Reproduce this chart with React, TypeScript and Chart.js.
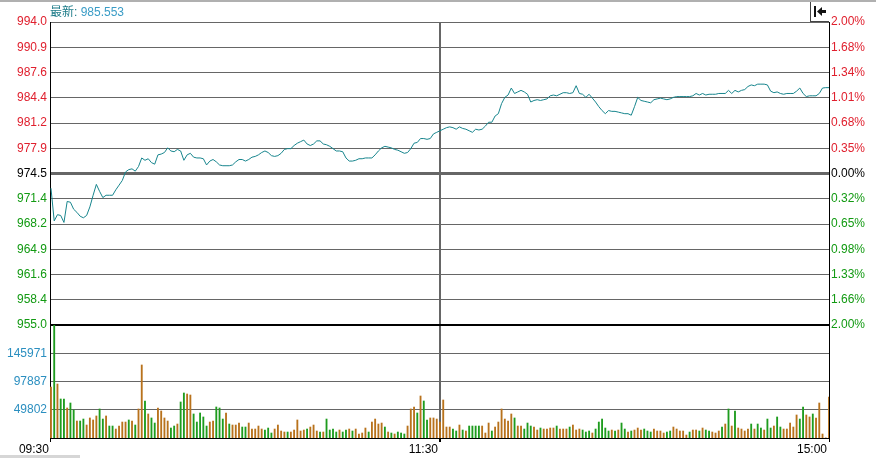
import React, { useEffect, useRef } from "react";
import { Chart, registerables } from "chart.js";

Chart.register(...registerables);

// ---------- data ----------
const TIME_TICKS = [0, 120, 240];
const TIME_LABELS = ["09:30", "11:30", "15:00"];

const PRICE_MAX = 994.0;
const PRICE_MIN = 955.0;
const PRICE_LABELS = ["994.0", "990.9", "987.6", "984.4", "981.2", "977.9", "974.5", "971.4", "968.2", "964.9", "961.6", "958.4", "955.0"];
const PCT_LABELS = ["2.00%", "1.68%", "1.34%", "1.01%", "0.68%", "0.35%", "0.00%", "0.32%", "0.65%", "0.98%", "1.33%", "1.66%", "2.00%"];

const VOL_MIN = 1718;
const VOL_MAX = 194056;
const VOL_TICKS = [49802, 97887, 145971];

const LATEST_LABEL = "最新: ";
const LATEST = "985.553";

// morning 09:30-11:30 (121 minutes)
const PRICE_AM = [
  972.6, 968.4, 969.2, 969.1, 968.2, 970.9, 970.8, 969.9, 969.5, 969.0,
  968.8, 969.1, 970.2, 971.7, 973.1, 972.2, 971.4, 971.7, 971.7, 971.7,
  972.4, 973.0, 973.6, 974.7, 975.0, 975.1, 974.8, 975.4, 976.5, 976.2,
  976.4, 975.9, 975.7, 976.9, 977.0, 977.2, 977.8, 977.4, 977.3, 977.6,
  977.4, 976.2, 976.9, 977.1, 976.6, 976.5, 976.5, 976.4, 975.6, 976.1,
  976.3, 976.0, 975.6, 975.5, 975.5, 975.5, 975.6, 976.0, 976.3, 976.3,
  976.1, 976.3, 976.6, 976.7, 976.9, 977.2, 977.4, 977.2, 976.8, 976.7,
  976.8, 977.1, 977.6, 977.7, 977.7, 978.1, 978.4, 978.6, 978.8, 978.3,
  978.1, 978.3, 978.7, 978.7, 978.3, 978.2, 978.0, 977.7, 977.4, 977.4,
  977.3, 976.5, 976.1, 976.1, 976.2, 976.4, 976.4, 976.5, 976.5, 976.5,
  976.9, 977.4, 977.8, 978.0, 977.9, 977.8, 977.6, 977.5, 977.3, 977.1,
  977.2, 977.7, 978.4, 978.5, 979.0, 979.0, 978.9, 979.0, 979.6, 979.8,
  980.0,
];
// afternoon 13:01-15:00 (120 minutes)
const PRICE_PM = [
  980.2, 980.4, 980.5, 980.4, 980.2, 980.5, 980.3, 980.2, 980.0, 979.8,
  980.2, 980.1, 980.2, 980.6, 981.1, 981.1, 981.9, 982.2, 983.5, 984.3,
  984.6, 985.5, 984.8, 985.0, 985.2, 985.0, 984.7, 983.7, 983.9, 984.0,
  983.9, 984.0, 984.1, 984.5, 984.6, 984.5, 984.7, 984.9, 984.9, 984.8,
  984.9, 985.8, 984.8, 984.7, 984.3, 984.7, 984.2, 983.7, 983.1, 982.6,
  982.2, 982.6, 982.5, 982.5, 982.4, 982.3, 982.2, 982.2, 982.0, 983.1,
  984.3, 983.9, 983.8, 983.7, 983.6, 984.0, 984.1, 984.2, 984.1, 984.0,
  984.1, 984.3, 984.4, 984.4, 984.4, 984.4, 984.4, 984.5, 984.8, 984.6,
  984.8, 984.6, 984.7, 984.7, 984.7, 984.8, 984.8, 984.8, 985.2, 984.8,
  985.2, 985.0, 985.2, 985.3, 985.7, 985.9, 985.8, 986.0, 986.0, 986.0,
  985.9, 985.1, 984.9, 985.0, 984.8, 984.7, 984.8, 984.8, 984.8, 985.1,
  985.5, 984.8, 984.4, 984.5, 984.5, 984.5, 984.8, 985.5, 985.55, 985.55,
];

const VOL_AM = [
  88500, 194000, 93600, 68100, 68100, 52800, 61300, 49400, 30600, 30600,
  34000, 23800, 35800, 32400, 39200, 51100, 34000, 39200, 22100, 22100,
  17000, 22100, 28900, 28900, 32400, 30600, 23800, 51100, 126000, 64700,
  42600, 35800, 27200, 52800, 47700, 35800, 30600, 18700, 22100, 25500,
  63000, 78300, 76600, 74900, 42600, 28900, 44300, 37500, 22100,
  28900, 30600, 54500, 52800, 34000, 44300, 25500, 23800, 23800, 27200,
  20400, 20400, 27200, 17000, 17000, 22100, 17000, 15300, 18700, 10200,
  17000, 23800, 13600, 11900, 11900, 11900, 15300, 32400, 13600, 15300,
  17000, 20400, 23800, 13600, 11900, 11900, 34000, 15300, 17000, 11900,
  15300, 11900, 15300, 17000, 13600, 17000, 8500, 10200, 18700,
  11900, 28900, 34000, 25500, 27200, 20400, 11900, 10200, 8500, 11900,
  10200, 8500, 22100, 51100, 54500, 44300, 73200, 64700, 32400, 35800,
  35800, 34000, 28900,
];
const VOL_PM = [
  66400, 20400, 20400, 17000, 13600, 23800, 15300, 13600, 22100, 22100,
  22100, 22100, 22100, 10200, 27200, 13600, 20400, 28900, 51100, 34000,
  30600, 42600, 35800, 22100, 22100,
  17000, 27200, 22100, 20400, 15300, 18700, 17000, 17000, 18700, 18700,
  22100, 17000, 17000, 17000, 20400, 23800, 15300, 17000, 15300, 11900,
  13600, 10200, 17000, 28900, 34000, 18700, 13600, 15300, 13600, 15300,
  27200, 17000, 11900, 13600, 15300, 18700, 15300, 17000, 13600, 11900,
  17000, 13600, 13600, 10200, 11900, 13600, 20400, 17000, 13600,
  13600, 6800, 11900, 15300, 15300, 13600, 18700, 15300, 13600, 11900,
  10200, 13600, 20400, 25500, 51100, 22100, 47700, 18700, 17000, 13600,
  17000, 25500, 17000, 25500, 18700, 15300, 34000, 18700, 22100, 37500,
  20400, 17000, 17000, 27200, 20400, 40900, 34000, 54500, 40900, 37500,
  42600, 35800, 61300, 8500, 2000, 71500,
];
// u = up minute, d = down minute
const DIR_AM =
  "ududduddud" + "duuuuddudd" + "uuuududuud" + "udduuuuddu" + "dduuddddd" +
  "uuddduduuu" + "dduuuuuddd" + "uuuuduuuuu" + "duuududddd" + "udduduuuu" +
  "duuuududud" + "dduuududdu" + "uuu";
const DIR_PM =
  "uuuddududd" + "dduuuduuuu" + "uuduu" +
  "ddduuduuuu" + "duuuduuudd" + "dudddddudu" + "dduduuuddd" + "uuuudduuu" +
  "uuduududdu" + "uudududuuu" + "ududduddud" + "duuuuudduu" + "duuuuu";

// ---------- styles ----------
const FONT = 'Arial, "Liberation Sans", "Noto Sans CJK SC", sans-serif';
const RED = "#e0202e";
const GREEN = "#129a12";
const BLACK = "#000000";
const GRID = "#666666";
const VOL_TXT = "#2b8fc0";
const LINE = "#17858d";
const UP = "#b8721c";
const DOWN = "#1e9c1e";

const decorPlugin = {
  id: "decor",
  afterDraw(chart: any) {
    const ctx = chart.ctx as CanvasRenderingContext2D;
    const a = chart.chartArea;
    ctx.save();
    // top border
    ctx.fillStyle = "#b0b0b0";
    ctx.fillRect(0, 0, chart.width, 2);
    // latest label
    ctx.font = `12px ${FONT}`;
    ctx.textBaseline = "alphabetic";
    ctx.textAlign = "left";
    ctx.fillStyle = "#1c7b88";
    ctx.fillText(LATEST_LABEL, a.left, 16);
    const w = ctx.measureText(LATEST_LABEL).width;
    ctx.fillStyle = "#3a9cc6";
    ctx.fillText(LATEST, a.left + w, 16);
    // icon box top-right
    const bx = a.right - 19;
    const by = 2;
    ctx.fillStyle = "#ffffff";
    ctx.fillRect(bx, by, 19, 19);
    ctx.fillStyle = "#444";
    ctx.fillRect(bx, by, 1, 20);
    ctx.fillRect(bx, by + 19, 19, 1);
    ctx.fillStyle = "#111";
    ctx.fillRect(bx + 4, by + 4, 2, 11);
    ctx.beginPath();
    ctx.moveTo(bx + 7, by + 9.5);
    ctx.lineTo(bx + 12, by + 5);
    ctx.lineTo(bx + 12, by + 14);
    ctx.closePath();
    ctx.fill();
    ctx.fillRect(bx + 12, by + 8, 4, 3);
    // bottom scroll stub
    ctx.fillStyle = "#d6d6d6";
    ctx.fillRect(0, chart.height - 3, 80, 3);
    ctx.restore();
  },
};

export default function App() {
  const ref = useRef<HTMLCanvasElement | null>(null);

  useEffect(() => {
    document.body.style.margin = "0";
    document.body.style.overflow = "hidden";
    const prices = [...PRICE_AM, ...PRICE_PM];
    const vols = [...VOL_AM, ...VOL_PM];
    const dirs = DIR_AM + DIR_PM;
    const priceStep = (PRICE_MAX - PRICE_MIN) / (PRICE_LABELS.length - 1);
    const mid = (PRICE_LABELS.length - 1) / 2;
    const lblColor = (i: number) => (i < mid ? RED : i === mid ? BLACK : GREEN);

    const chart = new Chart(ref.current as HTMLCanvasElement, {
      type: "line",
      data: {
        datasets: [
          {
            type: "line",
            data: prices.map((v, i) => ({ x: i, y: v })),
            xAxisID: "x",
            yAxisID: "y",
            borderColor: LINE,
            borderWidth: 1,
            pointRadius: 0,
            tension: 0,
            fill: false,
          } as any,
          {
            type: "bar",
            data: vols.map((v, i) => ({ x: i, y: v })),
            xAxisID: "x",
            yAxisID: "yVol",
            backgroundColor: vols.map((_, i) => (dirs[i] === "d" ? DOWN : UP)),
            borderWidth: 0,
            barThickness: 1.2,
          } as any,
        ],
      },
      options: {
        animation: false,
        responsive: true,
        maintainAspectRatio: false,
        events: [],
        layout: { padding: { top: 22, left: 0, right: 0, bottom: 0 } },
        plugins: { legend: { display: false }, tooltip: { enabled: false } },
        scales: {
          x: {
            type: "linear",
            position: "bottom",
            min: -0.3,
            max: 240,
            offset: false,
            afterBuildTicks: (s: any) => {
              s.ticks = TIME_TICKS.map((v) => ({ value: v }));
            },
            afterFit: (s: any) => {
              s.height = 20;
            },
            ticks: {
              autoSkip: false,
              maxRotation: 0,
              align: "end",
              labelOffset: -2,
              padding: 0,
              color: BLACK,
              font: { family: FONT, size: 12 },
              callback: (_v: any, i: number) => TIME_LABELS[i],
            },
            grid: {
              offset: false,
              drawOnChartArea: true,
              drawTicks: true,
              tickLength: 4,
              color: (c: any) => (c.index === 1 ? GRID : "rgba(0,0,0,0)"),
              tickColor: BLACK,
              lineWidth: (c: any) => (c.index === 1 ? 2 : 1),
            },
            border: { display: true, color: BLACK, width: 1 },
          },
          y: {
            type: "linear",
            position: "left",
            stack: "main",
            stackWeight: 303,
            weight: 2,
            min: PRICE_MIN,
            max: PRICE_MAX,
            afterBuildTicks: (s: any) => {
              s.ticks = PRICE_LABELS.map((_, k) => ({ value: PRICE_MAX - k * priceStep }));
            },
            afterFit: (s: any) => {
              s.width = 50;
            },
            ticks: {
              autoSkip: false,
              padding: 3,
              font: { family: FONT, size: 12 },
              color: (c: any) => lblColor(c.index),
              callback: (_v: any, i: number) => PRICE_LABELS[i],
            },
            grid: {
              drawTicks: false,
              color: (c: any) => (c.index === PRICE_LABELS.length - 1 ? BLACK : GRID),
              lineWidth: (c: any) => (c.index === mid ? 3 : c.index === PRICE_LABELS.length - 1 ? 2 : 1),
            },
            border: { display: true, color: BLACK, width: 1 },
          },
          yVol: {
            type: "linear",
            position: "left",
            stack: "main",
            stackWeight: 113,
            weight: 1,
            min: VOL_MIN,
            max: VOL_MAX,
            beginAtZero: false,
            afterBuildTicks: (s: any) => {
              s.ticks = VOL_TICKS.map((v) => ({ value: v }));
            },
            afterFit: (s: any) => {
              s.width = 50;
            },
            ticks: {
              autoSkip: false,
              padding: 3,
              font: { family: FONT, size: 12 },
              color: VOL_TXT,
              callback: (_v: any, i: number) => String(VOL_TICKS[i]),
            },
            grid: { drawTicks: false, color: GRID, lineWidth: 1 },
            border: { display: true, color: BLACK, width: 1 },
          },
          pct: {
            type: "linear",
            position: "right",
            stack: "main",
            stackWeight: 303,
            weight: 1,
            min: PRICE_MIN,
            max: PRICE_MAX,
            afterBuildTicks: (s: any) => {
              s.ticks = PCT_LABELS.map((_, k) => ({ value: PRICE_MAX - k * priceStep }));
            },
            afterFit: (s: any) => {
              s.width = 47;
            },
            ticks: {
              autoSkip: false,
              padding: 2,
              font: { family: FONT, size: 12 },
              color: (c: any) => lblColor(c.index),
              callback: (_v: any, i: number) => PCT_LABELS[i],
            },
            grid: { drawOnChartArea: false, drawTicks: false },
            border: { display: true, color: BLACK, width: 1 },
          },
          volR: {
            type: "linear",
            position: "right",
            stack: "main",
            stackWeight: 113,
            weight: 2,
            min: 0,
            max: 1,
            afterFit: (s: any) => {
              s.width = 47;
            },
            ticks: { display: false },
            grid: { drawOnChartArea: false, drawTicks: false },
            border: { display: true, color: BLACK, width: 1 },
          },
        },
      } as any,
      plugins: [decorPlugin],
    });
    return () => chart.destroy();
  }, []);

  return (
    <div style={{ position: "relative", width: 876, height: 458 }}>
      <canvas ref={ref} />
    </div>
  );
}
